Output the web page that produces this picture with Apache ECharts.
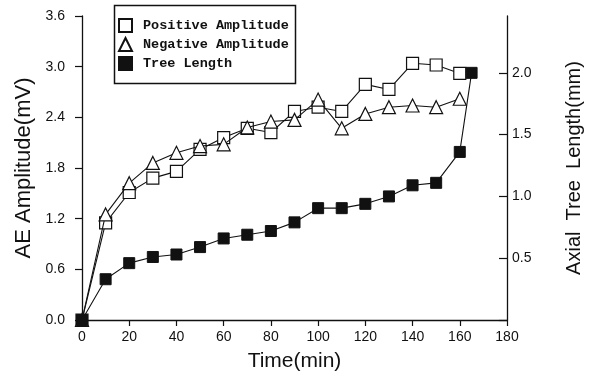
<!DOCTYPE html>
<html>
<head>
<meta charset="utf-8">
<script src="https://cdn.jsdelivr.net/npm/echarts@6/dist/echarts.min.js"></script>
<style>html,body{margin:0;padding:0;background:#fff;}#c{width:593px;height:374px;}</style>
</head>
<body>
<div id="c"></div>
<script>
const times = [0,10,20,30,40,50,60,70,80,90,100,110,120,130,140,150,160];
const positiveAmp = [0,1.15,1.51,1.68,1.76,2.02,2.16,2.27,2.22,2.47,2.52,2.47,2.79,2.73,3.04,3.02,2.92];
const negativeAmp = [0,1.25,1.62,1.86,1.98,2.06,2.08,2.28,2.35,2.37,2.61,2.27,2.44,2.52,2.54,2.52,2.62];
const treeTimes = [0,10,20,30,40,50,60,70,80,90,100,110,120,130,140,150,160,165];
const treeLength = [0,0.33,0.46,0.51,0.53,0.59,0.66,0.69,0.72,0.79,0.905,0.905,0.94,1.00,1.09,1.11,1.36,2.00];
const xTicks = [0,20,40,60,80,100,120,140,160,180];
const leftTicks = [0,0.6,1.2,1.8,2.4,3.0,3.6];
const rightTicks = [0.5,1.0,1.5,2.0];

const pair = (xs, ys) => xs.map((x, i) => [x, ys[i]]);
const ink = '#111';
const chart = echarts.init(document.getElementById('c'), null, {renderer: 'canvas'});
chart.setOption({
  animation: false,
  backgroundColor: '#fff',
  grid: {left: 82, right: 86, top: 16, bottom: 54, containLabel: false, outerBoundsMode: 'none'},
  legend: {
    orient: 'vertical', left: 118, top: 18, padding: 0, itemGap: 4,
    itemWidth: 13, itemHeight: 13,
    textStyle: {fontFamily: 'Liberation Mono', fontWeight: 'bold', fontSize: 13.5, lineHeight: 14, color: ink, padding: [0,0,0,6]},
    data: [
      {name: 'Positive Amplitude', icon: 'rect'},
      {name: 'Negative Amplitude', icon: 'triangle'},
      {name: 'Tree Length', icon: 'rect'}
    ]
  },
  graphic: [{
    type: 'rect', left: 112, top: 3, shape: {width: 181, height: 78},
    style: {fill: 'none', stroke: ink, lineWidth: 1.5}, z: 100
  }],
  xAxis: {
    type: 'value', min: 0, max: 180, interval: 20,
    name: 'Time(min)', nameLocation: 'middle', nameGap: 31,
    nameTextStyle: {fontFamily: 'Liberation Sans', fontSize: 21, color: ink},
    axisLine: {show: true, lineStyle: {color: ink, width: 1.3}},
    axisTick: {show: true, inside: false, length: 6, lineStyle: {color: ink, width: 1.2}},
    axisLabel: {fontFamily: 'Liberation Sans', fontSize: 14, color: ink, margin: 10,
      formatter: v => xTicks.includes(v) ? String(v) : ''},
    splitLine: {show: false}
  },
  yAxis: [{
    type: 'value', min: 0, max: 3.6, interval: 0.6, position: 'left',
    name: 'AE Amplitude(mV)', nameLocation: 'middle', nameGap: 33, nameRotate: 90,
    nameTextStyle: {fontFamily: 'Liberation Sans', fontSize: 22, color: ink},
    axisLine: {show: true, lineStyle: {color: ink, width: 1.3}},
    axisTick: {show: true, inside: false, length: 7, lineStyle: {color: ink, width: 1.2}},
    axisLabel: {fontFamily: 'Liberation Sans', fontSize: 14, color: ink, margin: 17,
      formatter: v => {const t = leftTicks.find(k => Math.abs(k - v) < 1e-6); return t === undefined ? '' : t.toFixed(1);}},
    splitLine: {show: false}
  }, {
    type: 'value', min: 0, max: 2.46, interval: 0.5, position: 'right',
    name: 'Axial  Tree  Length(mm)', nameLocation: 'middle', nameGap: 57, nameRotate: 90,
    nameTextStyle: {fontFamily: 'Liberation Sans', fontSize: 20, color: ink},
    axisLine: {show: true, lineStyle: {color: ink, width: 1.3}},
    axisTick: {show: true, inside: true, length: 8, lineStyle: {color: ink, width: 1.2}},
    axisLabel: {fontFamily: 'Liberation Sans', fontSize: 14, color: ink, margin: 5, showMaxLabel: false,
      formatter: v => {const t = rightTicks.find(k => Math.abs(k - v) < 1e-6); return t === undefined ? '' : t.toFixed(1);}},
    splitLine: {show: false}
  }],
  series: [{
    name: 'Positive Amplitude', type: 'line', yAxisIndex: 0,
    data: pair(times, positiveAmp),
    symbol: 'rect', symbolSize: 12,
    lineStyle: {color: ink, width: 1.1},
    itemStyle: {color: '#fff', borderColor: ink, borderWidth: 1.2},
    z: 3
  }, {
    name: 'Negative Amplitude', type: 'line', yAxisIndex: 0,
    data: pair(times, negativeAmp),
    symbol: 'triangle', symbolSize: 13,
    lineStyle: {color: ink, width: 1.1},
    itemStyle: {color: '#fff', borderColor: ink, borderWidth: 1.2},
    z: 4
  }, {
    name: 'Tree Length', type: 'line', yAxisIndex: 1,
    data: pair(treeTimes, treeLength),
    symbol: 'rect', symbolSize: 11,
    lineStyle: {color: ink, width: 1.1},
    itemStyle: {color: ink, borderColor: ink, borderWidth: 1},
    z: 5
  }]
});
</script>
</body>
</html>
